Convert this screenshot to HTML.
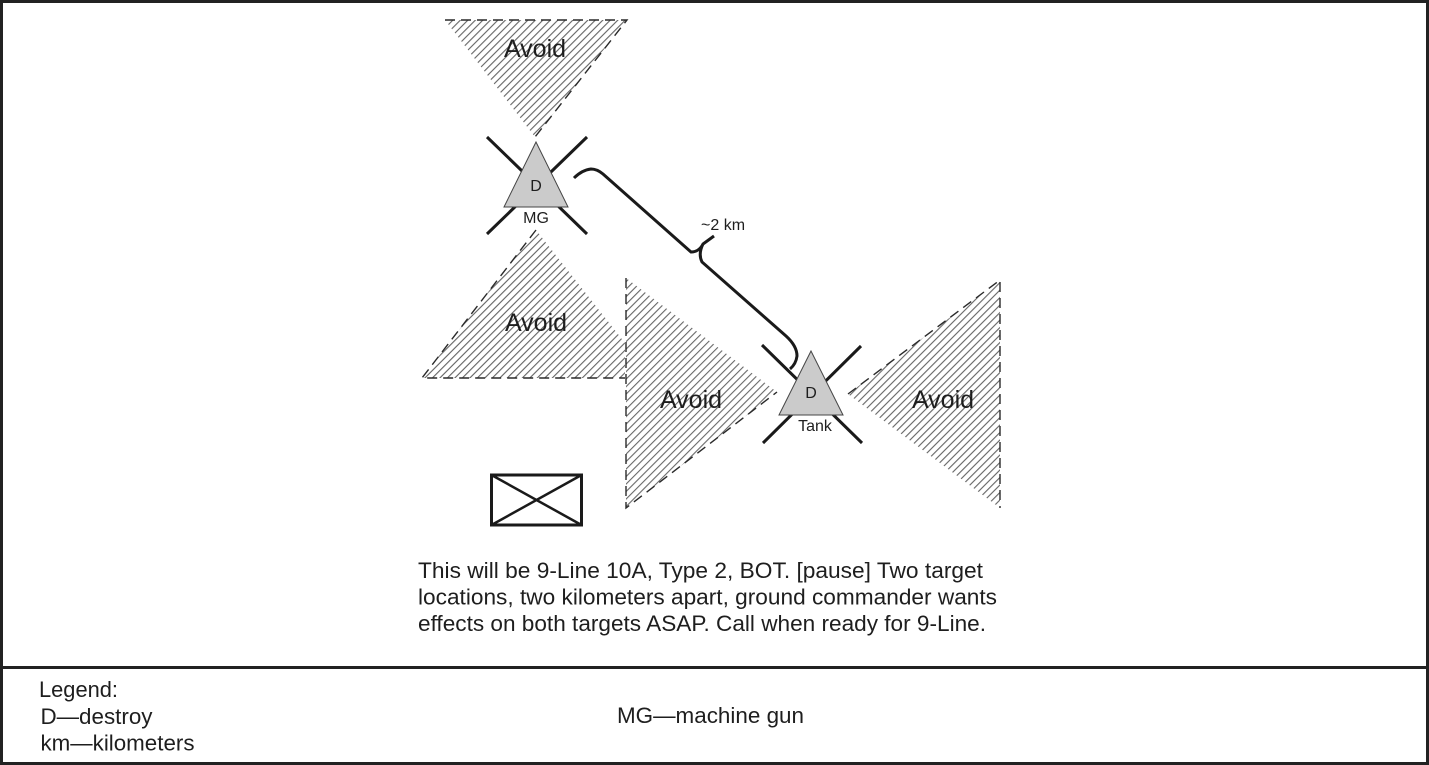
<!DOCTYPE html>
<html><head><meta charset="utf-8"><style>
html,body{margin:0;padding:0;background:#fff;}
svg{display:block;}
text{font-family:"Liberation Sans",Arial,sans-serif;fill:#1e1e1e;}
</style></head><body>
<svg width="1429" height="765" viewBox="0 0 1429 765" xmlns="http://www.w3.org/2000/svg">
<defs>
<pattern id="h" width="5.3" height="5.3" patternUnits="userSpaceOnUse" patternTransform="rotate(45)">
<line x1="0.6" y1="0" x2="0.6" y2="5.3" stroke="#555" stroke-width="1"/>
</pattern>
</defs>
<rect x="0" y="0" width="1429" height="765" fill="#fff"/>
<rect x="1.5" y="1.5" width="1426" height="762" fill="none" stroke="#222" stroke-width="3"/>
<line x1="0" y1="667.5" x2="1429" y2="667.5" stroke="#222" stroke-width="3"/>

<!-- Avoid triangles: hatch fill -->
<g fill="url(#h)" stroke="none">
<polygon points="445,20 627,20 535,137"/>
<polygon points="536,230 422,378 625,378 625,343"/>
<polygon points="626,278 626,508 777,392"/>
<polygon points="1000,280 1000,508 848,394"/>
</g>
<!-- dashed edges -->
<g fill="none" stroke="#2a2a2a" stroke-width="1.4" stroke-dasharray="10,6">
<polyline points="445,20 627,20 535,137"/>
<polyline points="536,230 422,378 625,378"/>
<polyline points="626,278 626,508 777,392"/>
<polyline points="848,394 1000,280 1000,508"/>
</g>
<g font-size="25" text-anchor="middle">
<text x="535" y="57">Avoid</text>
<text x="536" y="331">Avoid</text>
<text x="691" y="408">Avoid</text>
<text x="943" y="408">Avoid</text>
</g>

<!-- MG target -->
<g stroke="#1a1a1a" stroke-width="3">
<line x1="487" y1="137" x2="587" y2="234"/>
<line x1="587" y1="137" x2="487" y2="234"/>
</g>
<polygon points="536,142 504,207 568,207" fill="#cbcbcb" stroke="#444" stroke-width="1"/>
<text x="536" y="191" font-size="16" text-anchor="middle">D</text>
<text x="536" y="223" font-size="16" text-anchor="middle">MG</text>

<!-- Tank target -->
<g stroke="#1a1a1a" stroke-width="3">
<line x1="762" y1="345" x2="862" y2="443"/>
<line x1="861" y1="346" x2="763" y2="443"/>
</g>
<polygon points="811,351 779,415 843,415" fill="#cbcbcb" stroke="#444" stroke-width="1"/>
<text x="811" y="398" font-size="16" text-anchor="middle">D</text>
<text x="815" y="431" font-size="16" text-anchor="middle">Tank</text>

<!-- distance brace -->
<path d="M574,178 Q582,170 591,169 Q597,169 603,174 L691,252 Q699,252 703,244 L714,236 M703,244 Q698,254 702,262 L786,336 Q797,346 797,356 Q796,364 790,369" fill="none" stroke="#1a1a1a" stroke-width="3"/>
<text x="701" y="230" font-size="16">~2 km</text>

<!-- box with X -->
<rect x="491.5" y="475" width="90" height="50" fill="none" stroke="#1a1a1a" stroke-width="3"/>
<line x1="491.5" y1="475" x2="581.5" y2="525" stroke="#1a1a1a" stroke-width="2.5"/>
<line x1="581.5" y1="475" x2="491.5" y2="525" stroke="#1a1a1a" stroke-width="2.5"/>

<!-- body text -->
<g font-size="22">
<text x="418" y="578" textLength="565" lengthAdjust="spacingAndGlyphs">This will be 9-Line 10A, Type 2, BOT. [pause] Two target</text>
<text x="418" y="604.5" textLength="579" lengthAdjust="spacingAndGlyphs">locations, two kilometers apart, ground commander wants</text>
<text x="418" y="631" textLength="568" lengthAdjust="spacingAndGlyphs">effects on both targets ASAP. Call when ready for 9-Line.</text>
</g>

<!-- legend -->
<g font-size="22">
<text x="39" y="697" textLength="79" lengthAdjust="spacingAndGlyphs">Legend:</text>
<text x="40.5" y="724" textLength="112" lengthAdjust="spacingAndGlyphs">D—destroy</text>
<text x="40.5" y="750.5" textLength="154" lengthAdjust="spacingAndGlyphs">km—kilometers</text>
<text x="617" y="723" textLength="187" lengthAdjust="spacingAndGlyphs">MG—machine gun</text>
</g>
</svg>
</body></html>
